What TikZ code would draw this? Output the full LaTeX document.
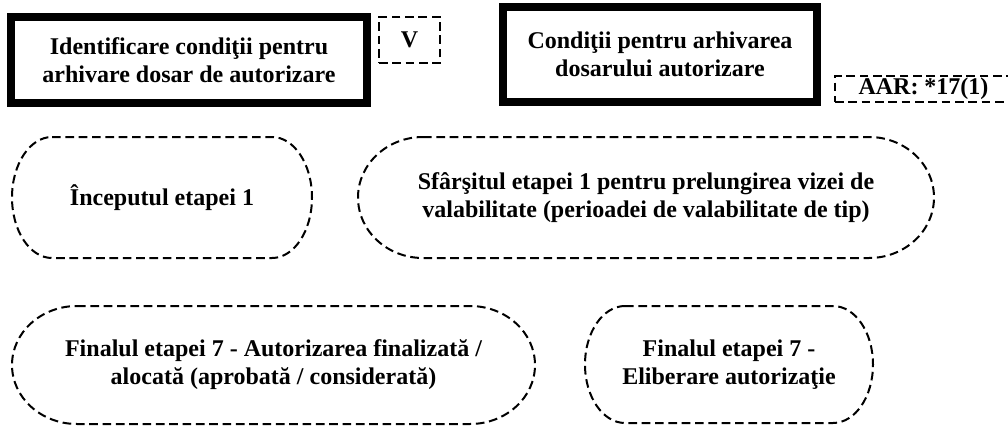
\documentclass[tikz,border=0pt]{standalone}
\usepackage{fontspec}
\setmainfont{Liberation Serif}
\newcommand\mystadium[5]{% x1, ybot, x2, ytop, rx
  \draw[dashbox] ({#1+#5},#4) -- ({#3-#5},#4)
    arc[start angle=90, end angle=-90, x radius=#5, y radius={(#4-#2)/2}]
    -- ({#1+#5},#2)
    arc[start angle=270, end angle=90, x radius=#5, y radius={(#4-#2)/2}] -- cycle;}
\begin{document}
\begin{tikzpicture}[x=0.75pt,y=0.75pt,
  every node/.style={font=\bfseries\fontsize{18}{21}\selectfont, align=center, inner sep=0pt},
  thickbox/.style={draw, line width=6pt},
  dashbox/.style={draw, line width=1.5pt, dash pattern=on 6.5pt off 3.5pt}]
\useasboundingbox (0,0) rectangle (1008,426);
% top row boxes
\node[thickbox, minimum width=267pt, minimum height=63.75pt] (b1) at (189,366)
  {Identificare condiţii pentru\\arhivare dosar de autorizare};
\node[dashbox, minimum width=45.75pt, minimum height=34.5pt] (v) at (409.5,386) {V};
\node[thickbox, minimum width=235.5pt, minimum height=70.9pt] (b2) at (660,371.25)
  {Condiţii pentru arhivarea\\dosarului autorizare};
\node[dashbox, minimum width=132.75pt, minimum height=19.5pt] (aar) at (923.5,337) {AAR: *17(1)};
% rounded shapes
\mystadium{12}{168}{312}{289}{40}
\node (s1) at (162,228.5) {Începutul etapei 1};
\mystadium{358}{168}{934}{289}{65}
\node (s2) at (646,228.5) {Sfârşitul etapei 1 pentru prelungirea vizei de\\valabilitate (perioadei de valabilitate de tip)};
\mystadium{12}{2}{535}{120}{65}
\node (s3) at (273.5,61) {Finalul etapei 7 - Autorizarea finalizată /\\alocată (aprobată / considerată)};
\mystadium{585}{3}{873}{120}{40}
\node (s4) at (729,61.5) {Finalul etapei 7 -\\Eliberare autorizaţie};
\end{tikzpicture}
\end{document}
